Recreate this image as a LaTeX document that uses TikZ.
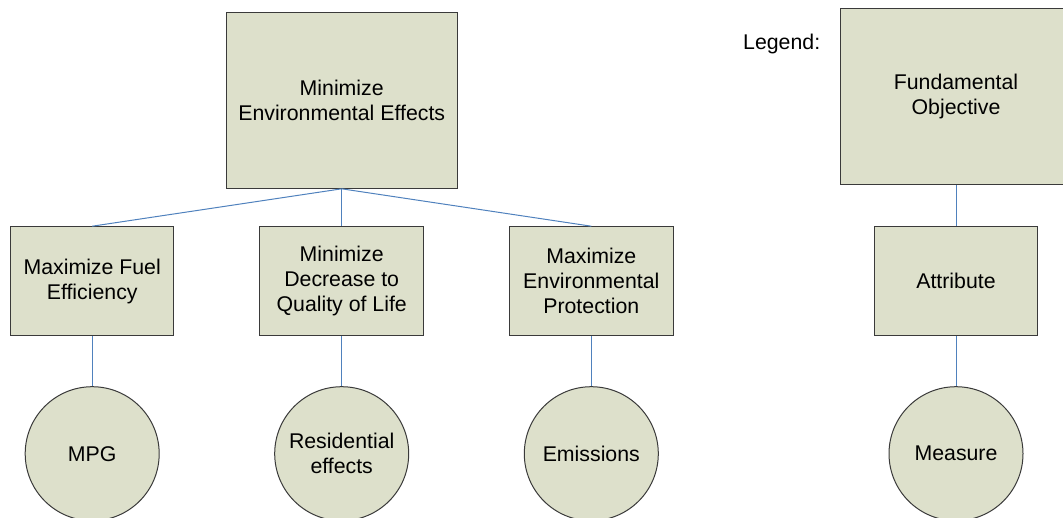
\documentclass[tikz,border=0pt]{standalone}
\usepackage{fontspec}
\setmainfont{Liberation Sans}
\definecolor{boxfill}{HTML}{DDE0CB}
\definecolor{boxline}{HTML}{3A3A3A}
\definecolor{linkblue}{HTML}{4F81BD}
\tikzset{
  objbox/.style={draw=boxline, line width=1pt, fill=boxfill, rectangle, inner sep=0pt, align=center, font=\fontsize{21.3}{25}\selectfont},
  topbox/.style={objbox, minimum width=230.7pt, minimum height=176pt},
  midbox/.style={objbox, minimum width=163.5pt, minimum height=108.6pt},
  measure/.style={draw=boxline, line width=1pt, fill=boxfill, circle, inner sep=0pt, minimum size=134pt, align=center, font=\fontsize{21.3}{25}\selectfont},
  link/.style={draw=linkblue, line width=1pt},
  plain/.style={font=\fontsize{21.3}{25}\selectfont, inner sep=0pt}
}
\begin{document}
\begin{tikzpicture}[x=1pt, y=-1pt]
\useasboundingbox (0,0) rectangle (1063,517);
\begin{scope}
\clip (0,0) rectangle (1063,517);
% main tree
\node[topbox] (top) at (341.7,100.3) {Minimize\\Environmental Effects};
\node[midbox] (fuel) at (92.2,281) {Maximize Fuel\\Efficiency};
\node[midbox] (qol) at (341.7,281) {Minimize\\Decrease to\\Quality of Life};
\node[midbox] (prot) at (591.3,281) {Maximize\\Environmental\\Protection};
\node[measure] (mpg) at (92.2,453.7) {MPG};
\node[measure] (res) at (341.7,453.7) {Residential\\effects};
\node[measure] (emi) at (591.3,453.7) {Emissions};
\draw[link] (top.south) -- (fuel.north);
\draw[link] (top.south) -- (qol.north);
\draw[link] (top.south) -- (prot.north);
\draw[link] (fuel.south) -- (mpg.north);
\draw[link] (qol.south) -- (res.north);
\draw[link] (prot.south) -- (emi.north);
% legend
\node[plain] (legend) at (781.7,44) {Legend:};
\node[topbox] (fund) at (956,96.8) {Fundamental\\Objective};
\node[midbox] (attr) at (956,281) {Attribute};
\node[measure] (meas) at (956,453.7) {Measure};
\draw[link] (fund.south) -- (attr.north);
\draw[link] (attr.south) -- (meas.north);
\end{scope}
\end{tikzpicture}
\end{document}
